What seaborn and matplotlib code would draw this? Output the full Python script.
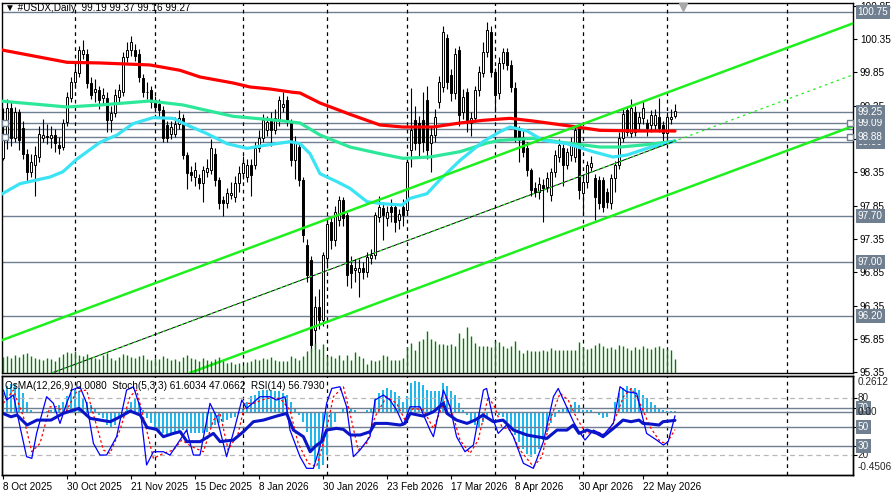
import numpy as np
import pandas as pd
import matplotlib
matplotlib.use("Agg")
import matplotlib.pyplot as plt
import matplotlib.transforms as mtransforms
import seaborn as sns

# ---------------- data ----------------
open_ = [98.56, 98.83, 99.31, 98.86, 99.25, 99.01, 98.63, 98.35, 98.46, 98.58,
         98.86, 98.89, 98.86, 98.91, 98.76, 98.73, 99.10, 99.46, 99.70, 99.84,
         100.13, 100.13, 99.69, 99.55, 99.58, 99.46, 99.46, 99.13, 99.24, 99.48,
         99.55, 100.08, 100.18, 100.18, 100.13, 99.76, 99.55, 99.58, 99.43, 99.38,
         99.28, 99.06, 98.93, 98.93, 99.08, 99.16, 98.61, 98.35, 98.28, 98.26,
         98.19, 98.35, 98.38, 98.63, 98.23, 97.93, 97.89, 98.01, 97.98, 98.19,
         98.34, 98.28, 98.46, 98.46, 98.71, 98.86, 98.98, 99.13, 98.98, 99.13,
         99.33, 99.43, 99.09, 98.53, 98.73, 98.23, 97.26, 97.03, 95.98, 96.33,
         96.13, 97.06, 97.60, 97.33, 97.63, 97.93, 97.71, 96.96, 96.88, 96.85,
         96.91, 96.85, 97.06, 97.11, 97.68, 97.81, 97.66, 97.83, 97.83, 97.63,
         97.83, 97.78, 98.68, 99.13, 99.09, 99.13, 99.43, 98.79, 98.91, 99.40,
         99.63, 100.36, 99.81, 99.54, 100.18, 99.25, 99.55, 99.09, 99.16, 99.58,
         99.84, 100.15, 100.45, 99.85, 99.54, 99.99, 100.15, 99.96, 99.61, 98.98,
         98.88, 98.71, 98.38, 98.11, 98.05, 98.16, 98.13, 98.01, 98.35, 98.58,
         98.71, 98.46, 98.61, 98.58, 99.01, 98.04, 98.20, 98.43, 98.26, 98.23,
         98.23, 98.05, 97.89, 98.26, 98.46, 98.86, 99.28, 98.94, 99.25, 99.09,
         99.16, 99.09, 99.06, 99.06, 99.18, 99.06, 98.94, 99.15, 99.19]
high = [99.31, 99.45, 99.40, 99.33, 99.30, 99.12, 98.70, 98.62, 98.75, 99.05,
        99.15, 99.08, 99.05, 99.00, 98.88, 99.15, 99.55, 99.78, 100.00, 100.25,
        100.33, 100.20, 99.78, 99.75, 99.65, 99.62, 99.55, 99.35, 99.60, 99.68,
        100.15, 100.30, 100.40, 100.28, 100.20, 99.82, 99.70, 99.65, 99.50, 99.45,
        99.35, 99.12, 99.12, 99.18, 99.28, 99.22, 98.65, 98.45, 98.50, 98.32,
        98.45, 98.55, 98.85, 98.72, 98.28, 98.00, 98.12, 98.20, 98.30, 98.45,
        98.60, 98.55, 98.55, 98.80, 98.98, 99.22, 99.20, 99.25, 99.30, 99.50,
        99.55, 99.50, 99.15, 98.90, 98.80, 98.28, 97.35, 97.10, 96.50, 96.60,
        97.15, 97.65, 97.68, 97.85, 98.00, 97.98, 97.75, 97.10, 97.05, 97.05,
        97.00, 97.15, 97.20, 97.75, 98.00, 97.90, 97.85, 97.95, 97.88, 97.80,
        97.95, 98.55, 99.62, 99.35, 99.20, 99.55, 99.65, 99.05, 99.30, 99.80,
        100.55, 100.42, 99.90, 100.22, 100.25, 99.60, 99.62, 99.25, 99.65, 99.95,
        100.30, 100.60, 100.55, 99.92, 100.08, 100.22, 100.22, 100.03, 99.70, 99.05,
        98.98, 98.80, 98.42, 98.20, 98.28, 98.25, 98.35, 98.42, 98.68, 98.85,
        98.78, 98.72, 98.88, 99.05, 99.08, 98.30, 98.52, 98.60, 98.32, 98.30,
        98.28, 98.12, 98.32, 98.52, 98.95, 99.32, 99.35, 99.45, 99.35, 99.25,
        99.42, 99.15, 99.28, 99.30, 99.47, 99.12, 99.25, 99.30, 99.37]
low = [98.53, 98.70, 98.75, 98.80, 98.68, 98.55, 98.20, 98.28, 98.00, 98.50,
       98.80, 98.78, 98.72, 98.65, 98.62, 98.68, 99.05, 99.40, 99.62, 99.78,
       100.05, 99.62, 99.45, 99.40, 99.30, 99.38, 98.95, 98.95, 99.18, 99.40,
       99.50, 100.00, 100.10, 100.02, 99.70, 99.48, 99.45, 99.32, 99.25, 99.18,
       98.80, 98.80, 98.85, 98.88, 99.00, 98.55, 98.10, 98.22, 98.15, 98.10,
       97.90, 98.28, 98.32, 98.15, 97.80, 97.70, 97.82, 97.95, 97.90, 98.05,
       98.25, 98.20, 98.00, 98.40, 98.65, 98.80, 98.90, 98.75, 98.92, 99.05,
       99.25, 99.05, 98.45, 98.25, 98.15, 97.30, 96.70, 95.65, 95.70, 96.00,
       96.05, 96.95, 97.20, 97.25, 97.55, 97.55, 96.65, 96.62, 96.70, 96.48,
       96.75, 96.78, 96.98, 97.05, 97.60, 97.33, 97.55, 97.60, 97.45, 97.50,
       97.55, 97.72, 98.43, 98.68, 98.60, 98.65, 98.55, 98.35, 98.80, 99.32,
       99.55, 99.60, 99.42, 99.45, 99.05, 99.15, 98.95, 98.90, 99.10, 99.50,
       99.78, 100.08, 99.78, 99.25, 99.45, 99.90, 99.88, 99.55, 98.80, 98.50,
       98.58, 98.30, 98.00, 97.98, 97.95, 97.60, 98.05, 97.92, 98.28, 98.50,
       98.15, 98.40, 98.52, 98.50, 97.95, 97.72, 98.12, 98.35, 97.63, 97.80,
       97.75, 97.82, 97.80, 98.05, 98.40, 98.80, 98.90, 98.88, 98.90, 99.00,
       99.08, 98.90, 98.95, 98.98, 98.95, 98.82, 98.88, 99.08, 99.16]
close = [98.83, 99.31, 98.86, 99.25, 98.83, 98.63, 98.35, 98.50, 98.61, 98.92,
         98.91, 98.88, 98.91, 98.79, 98.71, 99.09, 99.48, 99.70, 99.85, 100.18,
         100.18, 99.69, 99.51, 99.60, 99.43, 99.51, 99.13, 99.24, 99.51, 99.58,
         100.08, 100.18, 100.30, 100.10, 99.78, 99.55, 99.56, 99.40, 99.33, 99.28,
         98.86, 98.86, 99.03, 99.08, 99.17, 98.61, 98.34, 98.31, 98.38, 98.19,
         98.38, 98.41, 98.71, 98.23, 97.89, 97.89, 98.04, 98.04, 98.19, 98.34,
         98.49, 98.46, 98.31, 98.71, 98.86, 99.13, 99.10, 98.98, 99.16, 99.43,
         99.38, 99.10, 98.53, 98.79, 98.23, 97.41, 96.81, 95.76, 96.33, 96.13,
         97.11, 97.58, 97.33, 97.75, 97.93, 97.66, 96.81, 96.84, 96.91, 96.91,
         96.85, 97.08, 97.11, 97.71, 97.83, 97.71, 97.75, 97.75, 97.60, 97.73,
         97.71, 98.50, 98.98, 98.79, 98.79, 98.80, 98.68, 98.91, 99.18, 99.70,
         100.45, 99.70, 99.54, 100.13, 99.21, 99.48, 99.13, 99.16, 99.58, 99.85,
         100.15, 100.48, 99.85, 99.51, 99.99, 100.15, 99.96, 99.63, 98.88, 98.83,
         98.65, 98.38, 98.08, 98.05, 98.18, 98.11, 98.26, 98.35, 98.61, 98.76,
         98.46, 98.65, 98.79, 98.98, 98.08, 98.20, 98.46, 98.49, 97.98, 97.89,
         97.83, 97.90, 98.26, 98.46, 98.86, 99.23, 98.95, 99.31, 98.95, 99.18,
         99.31, 99.01, 99.21, 99.21, 99.01, 98.94, 99.18, 99.18, 99.27]
volume = [16, 17, 15, 18, 16, 19, 20, 17, 15, 14, 13, 15, 14, 12, 16, 19, 21, 20, 22, 18,
          17, 19, 16, 15, 14, 18, 20, 15, 13, 16, 19, 18, 16, 15, 17, 18, 14, 13, 15, 14,
          17, 15, 13, 14, 12, 16, 18, 15, 14, 12, 15, 13, 12, 14, 16, 12, 10, 11, 9, 10,
          8, 11, 12, 14, 13, 15, 14, 16, 13, 12, 12, 12, 17, 15, 13, 17, 22, 25, 30, 24,
          29, 17, 17, 15, 18, 13, 18, 13, 21, 17, 15, 9, 13, 12, 13, 18, 17, 13, 13, 13,
          15, 26, 30, 23, 32, 34, 42, 34, 32, 29, 29, 28, 29, 27, 40, 35, 46, 37, 30, 27,
          27, 27, 26, 32, 31, 27, 25, 27, 32, 23, 20, 23, 22, 22, 22, 23, 22, 25, 23, 23,
          23, 23, 23, 23, 31, 26, 24, 25, 28, 30, 27, 25, 26, 24, 28, 27, 25, 23, 26, 24,
          27, 25, 24, 26, 27, 25, 24, 23, 14]

osma = [0.138, 0.186, 0.203, 0.203, 0.174, 0.138, 0.077, 0.017, 0.005, 0.002,
        -0.007, 0.010, 0.017, 0.029, 0.053, 0.077, 0.114, 0.138, 0.162, 0.150,
        0.102, 0.077, 0.053, 0.029, -0.019, -0.044, -0.092, -0.104, -0.092, -0.044,
        -0.007, 0.029, 0.077, 0.102, 0.077, 0.017, -0.044, -0.080, -0.116, -0.140,
        -0.152, -0.165, -0.165, -0.152, -0.140, -0.128, -0.140, -0.152, -0.152, -0.152,
        -0.152, -0.140, -0.116, -0.092, -0.080, -0.068, -0.056, -0.044, -0.031, -0.007,
        0.029, 0.077, 0.114, 0.126, 0.150, 0.162, 0.162, 0.162, 0.150, 0.150,
        0.138, 0.126, 0.077, 0.029, -0.019, -0.068, -0.140, -0.286, -0.358, -0.407,
        -0.382, -0.310, -0.104, -0.068, 0.005, 0.029, 0.048, 0.034, 0.017, 0.005,
        0.001, 0.017, 0.029, 0.102, 0.138, 0.162, 0.174, 0.162, 0.145, 0.114,
        0.077, 0.114, 0.211, 0.223, 0.218, 0.198, 0.162, 0.150, 0.155, 0.150,
        0.211, 0.186, 0.150, 0.126, 0.065, 0.017, -0.019, -0.068, -0.092, -0.104,
        -0.068, -0.031, -0.007, 0.005, -0.019, -0.031, -0.068, -0.116, -0.165, -0.213,
        -0.261, -0.298, -0.322, -0.298, -0.261, -0.201, -0.140, -0.080, -0.031, 0.017,
        0.029, 0.041, 0.053, 0.077, 0.053, 0.017, 0.017, 0.017, -0.007, -0.019,
        -0.044, -0.031, 0.005, 0.077, 0.138, 0.174, 0.186, 0.174, 0.174, 0.162,
        0.126, 0.102, 0.077, 0.053, 0.034, 0.017, 0.010, 0.010, 0.008]

# moving averages, read at points along each line (bar index, price)
red_x = [-0.75, 16, 24.25, 36.75, 44.25, 49.25, 57.5, 61.75, 66.75, 72.5, 74.25, 79.25,
         86.75, 94.25, 100, 107.5, 114.25, 120, 126.75, 132.5, 143.5, 149.25, 159.25, 168]
red_y = [100.19, 100.00, 99.99, 99.96, 99.88, 99.78, 99.69, 99.63, 99.60, 99.55, 99.54, 99.39,
         99.22, 99.06, 99.03, 99.03, 99.09, 99.13, 99.16, 99.12, 99.03, 98.98, 98.97, 98.97]
green_x = [-0.75, 16, 24.25, 36.75, 45, 57.5, 68.5, 74.25, 79.25, 86.75, 94.25, 100,
           106.75, 114.25, 121, 124.25, 132.5, 141, 149.25, 154.25, 161.75, 168]
green_y = [99.42, 99.33, 99.36, 99.42, 99.36, 99.19, 99.13, 99.09, 98.91, 98.73, 98.63, 98.56,
           98.58, 98.66, 98.79, 98.83, 98.86, 98.79, 98.73, 98.73, 98.77, 98.82]
cyan_x = [-0.75, 4.25, 11.75, 15, 18.5, 24.25, 28.5, 32.5, 37.5, 42.5, 46, 51, 56, 61, 66,
          71.75, 74.25, 76.75, 79.25, 83.5, 86.75, 91, 95, 99.75, 101.75, 106, 109.25,
          114.25, 120, 124.25, 126.75, 131, 135, 141, 147.5, 152.5, 156, 161, 168]
cyan_y = [98.01, 98.18, 98.28, 98.36, 98.55, 98.80, 98.91, 99.08, 99.17, 99.16, 99.06, 98.93,
          98.78, 98.71, 98.76, 98.81, 98.78, 98.63, 98.33, 98.21, 98.11, 97.91, 97.88, 97.86,
          97.96, 98.03, 98.24, 98.53, 98.81, 98.96, 99.03, 98.97, 98.83, 98.78, 98.66, 98.58,
          98.61, 98.71, 98.82]

# equidistant channel anchors (bar, price)
chan_bars = [0, 168]
chan_mid = [95.07, 98.82]
chan_upper = [95.84, 99.59]
chan_lower = [94.30, 98.05]

levels = [100.75, 99.25, 99.09, 99.00, 98.88, 98.80, 97.70, 97.00, 96.20]
level_labels = [98.80, 99.00, 100.75, 98.88, 99.09, 99.25, 97.70, 97.00, 96.20]
marked_levels = [99.09, 98.88]

# stochastic / RSI, read at turning points (bar, value)
rsi_x = [0, 2, 3.5, 6, 8.5, 12, 15, 19, 21.8, 24.3, 26.8, 29.3, 31.8, 34.3, 36, 38.4, 40.1,
         42.6, 44.3, 46, 49.3, 52.6, 54.3, 57.6, 60.1, 62.6, 65.1, 68.4, 70.9, 72.6, 75.1,
         76.8, 78.4, 79.7, 80.9, 83.4, 85.1, 86.8, 89.3, 91.8, 93, 96, 99.3, 100.5, 101.8,
         105.1, 107.6, 110.1, 111, 113.4, 116, 118, 120, 122.6, 125, 127.6, 131, 133.4, 136,
         138.5, 141, 142.6, 144, 146, 148.5, 150, 152.6, 155, 157, 159, 160, 162, 164, 165, 168]
rsi_y = [64.1, 60.6, 62.4, 51.9, 57.1, 57.1, 64.1, 69.4, 58.9, 57.1, 55.4, 60.6, 66.6, 62.4,
         49.4, 47.3, 39.6, 43.1, 44.9, 34.4, 34.4, 43.1, 34.4, 36.1, 44.9, 55.4, 57.1, 61.3,
         64.1, 46.6, 39.6, 23.8, 30.8, 34.4, 46.6, 48.4, 47.3, 41.4, 41.4, 44.9, 53.6, 53.6,
         51.9, 53.6, 64.1, 61.3, 65.9, 74.7, 64.1, 57.1, 53.6, 57.1, 62.4, 55.4, 57.1, 46.6,
         41.4, 39.6, 37.9, 46.6, 46.6, 51.9, 43.1, 46.6, 43.1, 39.6, 48.4, 57.1, 55.4, 57.1,
         53.6, 52.9, 51.9, 55.4, 56.8]
stoch_x = [0.1, 0.9, 2.6, 4.25, 5.9, 7.2, 8.4, 10.9, 12.6, 14.25, 15.9, 17.2, 19.25, 20.9,
           22.6, 24.25, 25.9, 28.4, 30.9, 32.6, 34.25, 35.9, 37.6, 40.1, 41.75, 43.4, 45.9,
           47.6, 49.25, 51.75, 53.4, 55.9, 58, 59.7, 60.9, 64.25, 66.75, 68.4, 70.5, 71.75,
           74.25, 75.9, 77.6, 79.25, 80.9, 82.2, 84.25, 85.9, 87.6, 89.25, 91.75, 93, 95.1,
           96.75, 98.4, 100.1, 101.75, 104.25, 106.75, 107.6, 109.25, 110.1, 111.75, 113.4,
           115.5, 117.6, 120.1, 120.9, 122.6, 123.8, 125.9, 127.6, 130.1, 132.6, 135.1, 137.6,
           138.8, 140.9, 142.6, 143.8, 145.5, 147.6, 150.1, 152.6, 154.25, 155.9, 158.4,
           160.9, 163.4, 165.1, 166.3, 168]
stoch_y = [88.7, 78.2, 83.5, 50.1, 18.6, 16.8, 43.1, 81.7, 74.7, 53.6, 74.7, 88.7, 92.2, 74.7,
           32.6, 20.3, 20.3, 39.6, 88.7, 92.2, 71.1, 9.8, 23.8, 23.8, 20.3, 30.8, 46.6, 20.3,
           20.3, 74.7, 60.6, 18.6, 50.1, 78.2, 69.4, 81.7, 81.7, 78.2, 81.7, 46.6, 18.6, 6.3,
           6.3, 29.1, 74.7, 90.4, 92.2, 71.1, 18.6, 25.6, 39.6, 78.2, 83.5, 78.2, 67.7, 51.9,
           71.1, 71.1, 46.6, 39.6, 71.1, 88.7, 71.1, 39.6, 23.8, 30.8, 88.7, 90.4, 57.1, 43.1,
           51.9, 39.6, 11.6, 6.3, 34.4, 81.7, 90.4, 71.1, 55.4, 46.6, 36.1, 46.6, 41.4, 53.6,
           92.2, 87.0, 85.3, 43.1, 36.1, 30.8, 34.4, 61.6]
signal_x = [0.1, 2.6, 5.1, 7.2, 9.25, 11.75, 13.4, 15.5, 18.4, 20.9, 23, 25.1, 26.75, 29.25,
            31.75, 33.4, 35.9, 37.6, 40.1, 42.6, 44.7, 47.2, 50.1, 52.6, 54.25, 56.3, 58.8,
            60.5, 62.6, 65.9, 69.25, 71.75, 73.8, 76.3, 78.4, 80.5, 82.6, 85.1, 86.75, 88.8,
            90.9, 93, 95.9, 98.4, 100.5, 102.6, 105.1, 107.6, 110.1, 110.9, 112.6, 114.25,
            116.75, 118.8, 121.3, 122.9, 124.7, 126.75, 129.25, 132.6, 134.75, 136.75, 139.25,
            141.3, 143.25, 145.75, 148.4, 150.9, 152.9, 155.1, 157.1, 159.25, 161.75, 164.25,
            165.9, 168]
signal_y = [74.7, 88.7, 60.6, 23.8, 32.6, 71.1, 71.1, 64.1, 87.0, 88.7, 57.1, 25.6, 22.1, 46.6,
            81.7, 88.7, 46.6, 16.8, 22.1, 25.6, 36.1, 29.1, 23.8, 57.1, 64.1, 25.6, 43.1, 74.7,
            74.7, 80.0, 80.0, 67.7, 32.6, 11.6, 8.1, 39.6, 81.7, 92.2, 64.1, 25.6, 32.6, 60.6,
            81.7, 74.7, 57.1, 69.4, 67.7, 48.4, 74.7, 81.7, 60.6, 36.1, 22.1, 36.1, 81.7, 71.1,
            50.1, 46.6, 25.6, 8.1, 18.6, 57.1, 85.3, 78.2, 60.6, 43.1, 44.9, 41.4, 57.1, 81.7,
            90.4, 74.7, 50.1, 34.4, 32.6, 47.1]

sep_bars = [18, 38, 60, 81, 101, 123, 145, 166, 196]
date_bars = [0, 16, 32, 48, 64, 80, 96, 112, 128, 144, 160]
date_labels = ['8 Oct 2025', '30 Oct 2025', '21 Nov 2025', '15 Dec 2025', '8 Jan 2026',
               '30 Jan 2026', '23 Feb 2026', '17 Mar 2026', '8 Apr 2026', '30 Apr 2026',
               '22 May 2026']

# ---------------- style ----------------
sns.set_theme(style="white")
plt.rcParams['font.family'] = ['Liberation Sans', 'DejaVu Sans']
plt.rcParams['axes.linewidth'] = 1.0

LVL = '#6f7f8f'
LIME = '#1ef01e'
FS = 7.2
BOX = dict(boxstyle='square,pad=0.2', fc=LVL, ec='none')

fig = plt.figure(figsize=(8.93, 4.96), dpi=100)
fig.patch.set_facecolor('white')
ax = fig.add_axes([2 / 893, 1 - 373 / 496, 851 / 893, 370 / 496])
ax_ind = fig.add_axes([2 / 893, 1 - 475 / 496, 851 / 893, 99 / 496], sharex=ax)

df = pd.DataFrame({'o': open_, 'h': high, 'l': low, 'c': close, 'v': volume})
df['bar'] = np.arange(len(df))

# volume on its own scale
ax_vol = ax.twinx()
ax_vol.vlines(df['bar'], 0, df['v'], color='#008000', lw=1.0)
ax_vol.set_ylim(0, 370)
ax_vol.set_axis_off()

# horizontal levels
for lv in levels:
    ax.axhline(lv, color=LVL, lw=1.0, zorder=1)

# month separators
for b in sep_bars:
    ax.axvline(b, color='black', lw=0.9, ls=(0, (3, 3)), zorder=1)
    ax_ind.axvline(b, color='black', lw=0.9, ls=(0, (3, 3)), zorder=1)

# candles
up = df['c'] >= df['o']
body_bot = np.minimum(df['o'], df['c'])
body_h = np.maximum((df['c'] - df['o']).abs(), 0.006)
ax.vlines(df['bar'], df['l'], df['h'], color='black', lw=0.8, zorder=3)
ax.bar(df['bar'][up], body_h[up], bottom=body_bot[up], width=0.7,
       color='white', edgecolor='black', linewidth=0.7, zorder=4)
ax.bar(df['bar'][~up], body_h[~up], bottom=body_bot[~up], width=0.7,
       color='black', edgecolor='black', linewidth=0.7, zorder=4)

# moving averages
sns.lineplot(x=red_x, y=red_y, ax=ax, color='#ff0000', lw=2.3, sort=False,
             estimator=None, zorder=5)
sns.lineplot(x=green_x, y=green_y, ax=ax, color='#2ee89a', lw=2.3, sort=False,
             estimator=None, zorder=5)
sns.lineplot(x=cyan_x, y=cyan_y, ax=ax, color='#3ae4f4', lw=2.3, sort=False,
             estimator=None, zorder=5)

# channel
ax.axline((chan_bars[0], chan_upper[0]), (chan_bars[1], chan_upper[1]), color=LIME, lw=1.8, zorder=6)
ax.axline((chan_bars[0], chan_lower[0]), (chan_bars[1], chan_lower[1]), color=LIME, lw=1.8, zorder=6)
ax.plot(chan_bars, chan_mid, color='black', lw=0.7, zorder=6)
ax.axline((chan_bars[0], chan_mid[0]), (chan_bars[1], chan_mid[1]), color=LIME, lw=0.9,
          ls=(0, (2, 3)), zorder=6)

ax.set_xlim(-0.25, 212.5)
ax.set_ylim(95.342, 100.889)

# right price scale
ticks = np.round(np.arange(95.35, 100.9, 0.5), 2)
ax.yaxis.tick_right()
ax.set_yticks(ticks)
ax.set_yticklabels([f'{t:.2f}' for t in ticks])
ax.tick_params(axis='y', labelsize=FS, length=3, width=0.8, pad=2, colors='black', right=True, left=False)
ax.tick_params(axis='x', bottom=False, labelbottom=False)
ax.grid(False)

bt = mtransforms.blended_transform_factory(ax.transAxes, ax.transData)
for lv in level_labels:
    ax.text(1.0055, lv, f'{lv:.2f}', transform=bt, color='white', fontsize=FS, va='center',
            ha='left', clip_on=False, zorder=10, bbox=BOX)
for lv in marked_levels:
    ax.plot([0.004, 0.996], [lv, lv], transform=bt, ls='none', marker='s', ms=4,
            mfc='white', mec=LVL, mew=1.0, clip_on=False, zorder=7)
ax.plot([170], [0.99], transform=ax.get_xaxis_transform(), marker='v', ms=6,
        color='#a8a8a8', ls='none', clip_on=False, zorder=7)

# ---------------- indicator window ----------------
ax_ind.bar(df['bar'], osma, width=0.7, color='#1fb8ee', linewidth=0, zorder=2)
ax_ind.axhline(0, color=LVL, lw=1.0, zorder=3)
ax_ind.set_ylim(-0.4506, 0.2612)
ax_st = ax_ind.twinx()
for lv in (80, 20):
    ax_st.axhline(lv, color='#b8b8b8', lw=0.9, ls=(0, (4, 3)))
for lv in (70, 50, 30):
    ax_st.axhline(lv, color=LVL, lw=1.0)
sns.lineplot(x=signal_x, y=signal_y, ax=ax_st, color='#ff0000', lw=0.9, ls=(0, (2, 2)),
             sort=False, estimator=None)
sns.lineplot(x=stoch_x, y=stoch_y, ax=ax_st, color='#0000ff', lw=0.9, sort=False, estimator=None)
sns.lineplot(x=rsi_x, y=rsi_y, ax=ax_st, color='#0a14c8', lw=2.2, sort=False, estimator=None)
ax_st.set_ylim(-0.7, 103.5)
ax_st.set_ylabel('')
ax_st.set_yticks([80, 70, 50, 30, 20])
ax_st.tick_params(axis='y', length=3, width=0.8, labelright=False, colors='black')
ax_ind.tick_params(axis='y', left=False, labelleft=False)
ax_ind.set_xticks(date_bars)
ax_ind.set_xticklabels(date_labels, ha='left')
ax_ind.tick_params(axis='x', labelsize=FS, length=3, width=0.8, pad=2, colors='black', bottom=True)
ax_ind.set_xlim(-0.25, 212.5)

st = mtransforms.blended_transform_factory(ax_st.transAxes, ax_st.transData)
for lv, s in ((80, '80'), (20, '20')):
    ax_st.text(1.0055, lv, s, transform=st, fontsize=FS, va='center', ha='left', clip_on=False)
for lv, s in ((70, '70'), (50, '50'), (30, '30')):
    ax_st.text(1.0055, lv, s, transform=st, fontsize=FS, color='white', va='center', ha='left',
               clip_on=False, zorder=10, bbox=BOX)
ax_st.text(1.0055, 0.985, '0.2612', transform=ax_st.transAxes, fontsize=FS, va='top', ha='left',
           clip_on=False)
ax_st.text(1.0055, 0.03, '-0.4506', transform=ax_st.transAxes, fontsize=FS, va='bottom', ha='left',
           clip_on=False)
# OsMA zero label sits on the OsMA scale
ot = mtransforms.blended_transform_factory(ax_ind.transAxes, ax_ind.transData)
fig.text(0, 0, '0.00', transform=ot + mtransforms.ScaledTranslation(0, 0, fig.dpi_scale_trans),
         fontsize=FS, va='center', ha='left', zorder=30)
fig.texts[-1].set_position((1.0055, 0.0))

for a in (ax, ax_ind, ax_st):
    for sp in a.spines.values():
        sp.set_color('black')
        sp.set_linewidth(1.0)

fig.text(5 / 893, 1 - 8 / 496, '\u25bc #USDX,Daily  99.19 99.37 99.16 99.27', fontsize=FS,
         va='center', ha='left', color='black')
fig.text(5 / 893, 1 - 386 / 496, 'OsMA(12,26,9) 0.0080  Stoch(5,3,3) 61.6034 47.0662  RSI(14) 56.7930',
         fontsize=FS, va='center', ha='left', color='black', zorder=20)

fig.savefig('out.png', dpi=100, facecolor='white')
